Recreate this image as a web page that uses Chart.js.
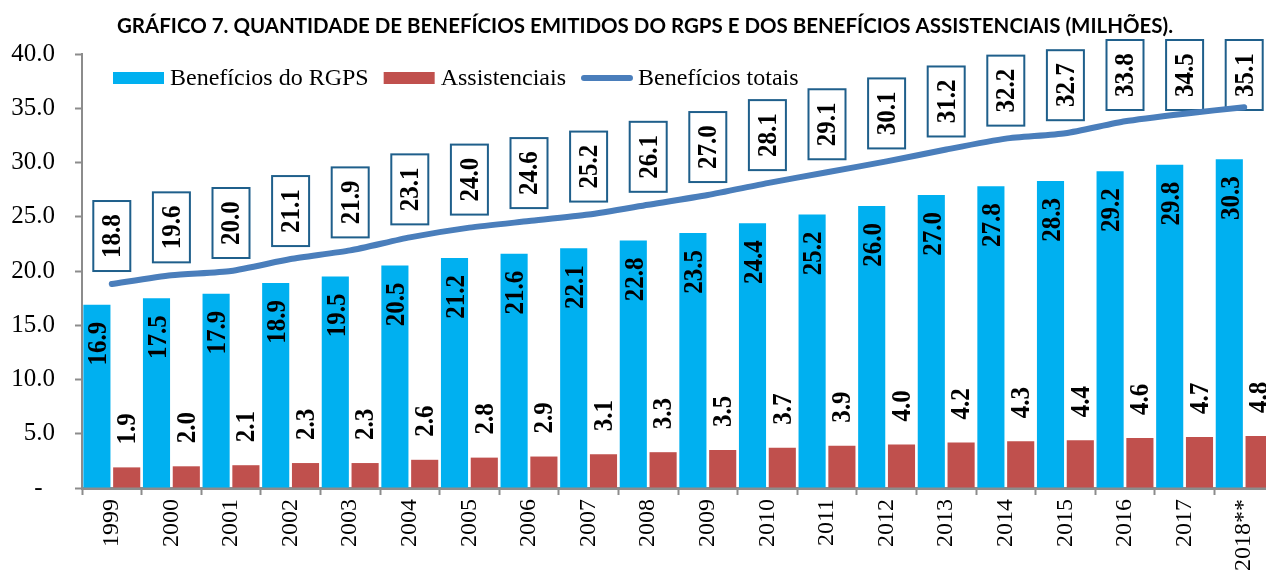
<!DOCTYPE html>
<html>
<head>
<meta charset="utf-8">
<script src="https://cdn.jsdelivr.net/npm/chart.js@4.4.1/dist/chart.umd.min.js"></script>
<style>
  html, body { margin: 0; padding: 0; background: #fff; overflow: hidden; }
  #wrap { width: 1290px; height: 575px; }
</style>
</head>
<body>
<div id="wrap"><canvas id="myChart"></canvas></div>
<script>
// data (milhões)
const anos = ['1999', '2000', '2001', '2002', '2003', '2004', '2005', '2006', '2007', '2008',
              '2009', '2010', '2011', '2012', '2013', '2014', '2015', '2016', '2017', '2018**'];
const beneficiosRGPS = [16.9, 17.5, 17.9, 18.9, 19.5, 20.5, 21.2, 21.6, 22.1, 22.8,
                        23.5, 24.4, 25.2, 26.0, 27.0, 27.8, 28.3, 29.2, 29.8, 30.3];
const assistenciais = [1.9, 2.0, 2.1, 2.3, 2.3, 2.6, 2.8, 2.9, 3.1, 3.3,
                       3.5, 3.7, 3.9, 4.0, 4.2, 4.3, 4.4, 4.6, 4.7, 4.8];
const beneficiosTotais = [18.8, 19.6, 20.0, 21.1, 21.9, 23.1, 24.0, 24.6, 25.2, 26.1,
                          27.0, 28.1, 29.1, 30.1, 31.2, 32.2, 32.7, 33.8, 34.5, 35.1];
const yTicks = [0, 5, 10, 15, 20, 25, 30, 35, 40];

const titulo = 'GRÁFICO 7. QUANTIDADE DE BENEFÍCIOS EMITIDOS DO RGPS E DOS BENEFÍCIOS ASSISTENCIAIS (MILHÕES).';
const serif = "'Liberation Serif', 'DejaVu Serif', serif";
const azul = '#00B0F0';
const vermelho = '#C0504D';
const linhaCor = '#4A7EBB';
const eixoCor = '#8C8C8C';

//draw a vertical (bottom to top) label
function textoVertical(ctx, txt, x, y, align) {
    ctx.save();
    ctx.translate(x, y);
    ctx.rotate(-Math.PI / 2);
    ctx.scale(1, 1.12);
    ctx.font = 'bold 25px ' + serif;
    ctx.fillStyle = '#000';
    ctx.textAlign = align;
    ctx.textBaseline = 'middle';
    ctx.fillText(txt, 0, 1);
    ctx.restore();
}

const rotulos = {
    id: 'rotulos',
    beforeDatasetsDraw(chart) {
        // boxes with the total values, line goes over them
        const ctx = chart.ctx;
        const meta = chart.getDatasetMeta(2);
        const topo = chart.chartArea.top - 14;
        meta.data.forEach(function (pt, i) {
            const w = 37, h = 70;
            let top = pt.y - 13 - h;
            if (top < topo) top = topo;
            ctx.save();
            ctx.fillStyle = '#fff';
            ctx.fillRect(pt.x - w / 2, top, w, h);
            ctx.strokeStyle = '#1F5F8B';
            ctx.lineWidth = 2;
            ctx.strokeRect(pt.x - w / 2, top, w, h);
            ctx.restore();
            textoVertical(ctx, beneficiosTotais[i].toFixed(1), pt.x, top + h / 2, 'center');
        });
    },
    afterDatasetsDraw(chart) {
        const ctx = chart.ctx;
        chart.getDatasetMeta(0).data.forEach(function (bar, i) {
            textoVertical(ctx, beneficiosRGPS[i].toFixed(1), bar.x + 1, bar.y + 17, 'right');
        });
        chart.getDatasetMeta(1).data.forEach(function (bar, i) {
            textoVertical(ctx, assistenciais[i].toFixed(1), bar.x, bar.y - 23, 'left');
        });
    },
    afterDraw(chart) {
        const ctx = chart.ctx;
        // title
        ctx.save();
        ctx.font = "bold 20.5px Lato, 'Open Sans', sans-serif";
        ctx.fillStyle = '#000';
        ctx.textAlign = 'center';
        ctx.textBaseline = 'alphabetic';
        ctx.fillText(titulo, 645, 33, 1056);
        ctx.restore();

        // legend inside the plot
        ctx.save();
        ctx.font = '24px ' + serif;
        ctx.textBaseline = 'middle';
        ctx.textAlign = 'left';
        let x = chart.chartArea.left + 31;
        const yc = 78;
        chart.data.datasets.forEach(function (ds) {
            if (ds.type === 'line') {
                ctx.strokeStyle = ds.borderColor;
                ctx.lineWidth = 6;
                ctx.lineCap = 'round';
                ctx.beginPath();
                ctx.moveTo(x + 3, yc);
                ctx.lineTo(x + 49, yc);
                ctx.stroke();
            } else {
                ctx.fillStyle = ds.backgroundColor;
                ctx.fillRect(x, yc - 6, 51, 12);
            }
            x += 57;
            ctx.fillStyle = '#000';
            ctx.fillText(ds.label, x, yc + 1);
            x += ctx.measureText(ds.label).width + 15;
        });
        ctx.restore();
    }
};

function initializeChart() {
    const ctx = document.getElementById('myChart').getContext('2d');
    new Chart(ctx, {
        type: 'bar',
        data: {
            labels: anos,
            datasets: [
                {
                    label: 'Benefícios do RGPS',
                    data: beneficiosRGPS,
                    backgroundColor: azul,
                    categoryPercentage: 1.0,
                    barPercentage: 0.91,
                    order: 1
                },
                {
                    label: 'Assistenciais',
                    data: assistenciais,
                    backgroundColor: vermelho,
                    categoryPercentage: 1.0,
                    barPercentage: 0.91,
                    order: 1
                },
                {
                    type: 'line',
                    label: 'Benefícios totais',
                    data: beneficiosTotais,
                    borderColor: linhaCor,
                    borderWidth: 6,
                    borderCapStyle: 'round',
                    pointRadius: 0,
                    tension: 0.2,
                    fill: false,
                    order: 0
                }
            ]
        },
        options: {
            responsive: false,
            animation: false,
            devicePixelRatio: 1,
            layout: { padding: { top: 54, right: 16, left: 0, bottom: 0 } },
            plugins: {
                legend: { display: false },
                title: { display: false },
                tooltip: { enabled: false }
            },
            scales: {
                x: {
                    grid: {
                        display: true,
                        drawOnChartArea: false,
                        offset: true,
                        tickLength: 7,
                        tickWidth: 2,
                        color: eixoCor
                    },
                    border: { display: true, color: eixoCor, width: 3 },
                    ticks: {
                        minRotation: 90,
                        maxRotation: 90,
                        autoSkip: false,
                        padding: 4,
                        color: '#000',
                        font: { family: serif, size: 24 }
                    },
                    afterFit: function (scale) { scale.height = 87; }
                },
                y: {
                    min: 0,
                    max: 40,
                    afterBuildTicks: function (scale) {
                        scale.ticks = yTicks.map(function (v) { return { value: v }; });
                    },
                    grid: {
                        display: true,
                        drawOnChartArea: false,
                        tickLength: 7,
                        tickWidth: 2,
                        color: eixoCor
                    },
                    border: { display: true, color: eixoCor, width: 2 },
                    ticks: {
                        padding: 20,
                        color: '#000',
                        font: { family: serif, size: 25 },
                        callback: function (value) {
                            return value === 0 ? '-  ' : value.toFixed(1);
                        }
                    },
                    afterFit: function (scale) { scale.width = 82; }
                }
            }
        },
        plugins: [rotulos]
    });
}

document.getElementById('myChart').width = 1290;
document.getElementById('myChart').height = 575;
initializeChart();
</script>
</body>
</html>
